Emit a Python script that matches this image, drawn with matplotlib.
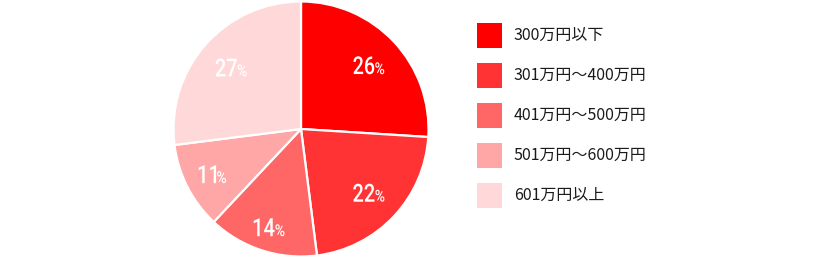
import matplotlib
matplotlib.use("Agg")
import matplotlib.pyplot as plt
import numpy as np
from matplotlib.patches import Rectangle, PathPatch
from matplotlib.textpath import TextPath
from matplotlib.font_manager import FontProperties
import matplotlib.transforms as mtransforms

plt.rcParams['font.family'] = ['Noto Sans CJK JP', 'DejaVu Sans']

categories = ["300万円以下", "301万円～400万円", "401万円～500万円", "501万円～600万円", "601万円以上"]
values = [26, 22, 14, 11, 27]
colors = ["#FF0000", "#FF3333", "#FF6666", "#FFA6A6", "#FFD9D9"]
label_dist = [0.73, 0.73, 0.81, 0.78, 0.73]

W, H = 820, 259
fig = plt.figure(figsize=(W / 100, H / 100), dpi=100)

cx, cy, r = 301, 129, 127.5
ax = fig.add_axes([(cx - r) / W, (H - cy - r) / H, 2 * r / W, 2 * r / H])
wedges, _ = ax.pie(values, colors=colors, startangle=90, counterclock=False,
                   radius=1, wedgeprops=dict(edgecolor="white", linewidth=1.6))
ax.set_xlim(-1, 1)
ax.set_ylim(-1, 1)
ax.set_aspect("equal")
ax.axis("off")

fp = FontProperties(family="Roboto", weight="medium")
num_h, pct_h = 18.0, 12.0      # pixel heights
num_cond, pct_cond = 0.80, 0.85
gap = 1.0


def add_label(x, y, v):
    tn = TextPath((0, 0), str(v), size=1, prop=fp)
    tp = TextPath((0, 0), "%", size=1, prop=fp)
    en, ep = tn.get_extents(), tp.get_extents()
    syn = num_h / en.height
    sxn = syn * num_cond
    syp = pct_h / ep.height
    sxp = syp * pct_cond
    wn = en.width * sxn
    wp = ep.width * sxp
    left = -(wn + gap + wp) / 2
    base = -num_h / 2
    anchor = mtransforms.ScaledTranslation(x, y, ax.transData)
    tr_n = mtransforms.Affine2D().translate(-en.x0, -en.y0).scale(sxn, syn).translate(left, base) + anchor
    tr_p = mtransforms.Affine2D().translate(-ep.x0, -ep.y0).scale(sxp, syp).translate(left + wn + gap, base) + anchor
    for path, tr in ((tn, tr_n), (tp, tr_p)):
        ax.add_patch(PathPatch(path, facecolor="white", edgecolor="none", transform=tr, clip_on=False))


for w, v, d in zip(wedges, values, label_dist):
    ang = np.deg2rad((w.theta1 + w.theta2) / 2)
    add_label(d * np.cos(ang), d * np.sin(ang), v)

# legend
lax = fig.add_axes([0, 0, 1, 1])
lax.set_xlim(0, W)
lax.set_ylim(H, 0)
lax.axis("off")
for i, (cat, col) in enumerate(zip(categories, colors)):
    yc = 35 + 40 * i
    lax.add_patch(Rectangle((477, yc - 12.5), 25, 25, facecolor=col, edgecolor="none"))
    lax.text(514, yc, cat, ha="left", va="center", fontsize=11.5, color="#1a1a1a")

fig.savefig("out.png", dpi=100)
